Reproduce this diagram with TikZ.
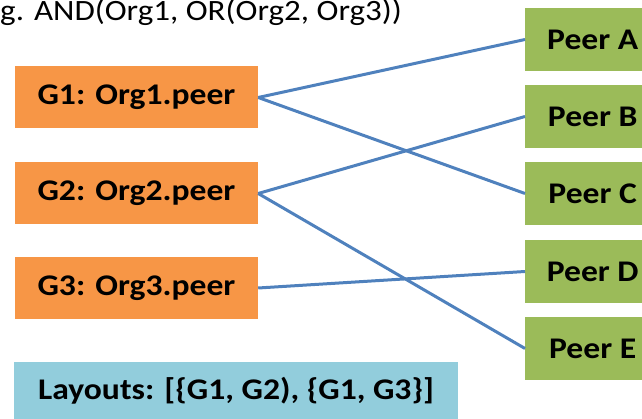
\documentclass[tikz,border=0pt]{standalone}
\usepackage{fontspec}
\setmainfont{Carlito}[FakeStretch=1.12]
\usepackage{tikz}
\usepackage{xcolor}

\definecolor{grouporange}{RGB}{247,150,70}
\definecolor{peergreen}{RGB}{155,187,89}
\definecolor{layoutblue}{RGB}{146,205,220}
\definecolor{linkblue}{RGB}{79,129,189}

\begin{document}
\begin{tikzpicture}[x=1pt, y=-1pt,
        group/.style={fill=grouporange, minimum width=243pt, minimum height=62pt,
            inner sep=0pt, font=\fontsize{30}{34}\selectfont\bfseries},
        peer/.style={fill=peergreen, minimum width=135pt, minimum height=63pt,
            inner sep=0pt, anchor=west, font=\fontsize{30}{34}\selectfont\bfseries},
        link/.style={color=linkblue, line width=3pt}]
            \useasboundingbox (0,0) rectangle (642,419);

            % policy
            \node[anchor=base west, inner sep=0pt, font=\fontsize{29.5}{33}\selectfont] (policy) at (0,21) {g. AND(Org1, OR(Org2, Org3))};

            % groups
            \node[group] (g1) at (136.5,97.5) {G1: Org1.peer};
            \node[group] (g2) at (136.5,193.5) {G2: Org2.peer};
            \node[group] (g3) at (136.5,288) {G3: Org3.peer};

            % peers
            \node[peer] (pa) at (525,39.5) {Peer A};
            \node[peer] (pb) at (525,116.5) {Peer B};
            \node[peer] (pc) at (525,193.5) {Peer C};
            \node[peer] (pd) at (525,271.5) {Peer D};
            \node[peer] (pe) at (525,348.5) {Peer E};

            % layouts
            \node[fill=layoutblue, minimum width=444pt, minimum height=57pt, inner sep=0pt,
                font=\fontsize{30}{34}\selectfont\bfseries] (layouts) at (236,390.5) {Layouts: [\{G1, G2), \{G1, G3\}]};

            % draw links
            \draw[link] (g1.east) -- (pa.west);
            \draw[link] (g1.east) -- (pc.west);
            \draw[link] (g2.east) -- (pb.west);
            \draw[link] (g2.east) -- (pe.west);
            \draw[link] (g3.east) -- (pd.west);
        \end{tikzpicture}
\end{document}
